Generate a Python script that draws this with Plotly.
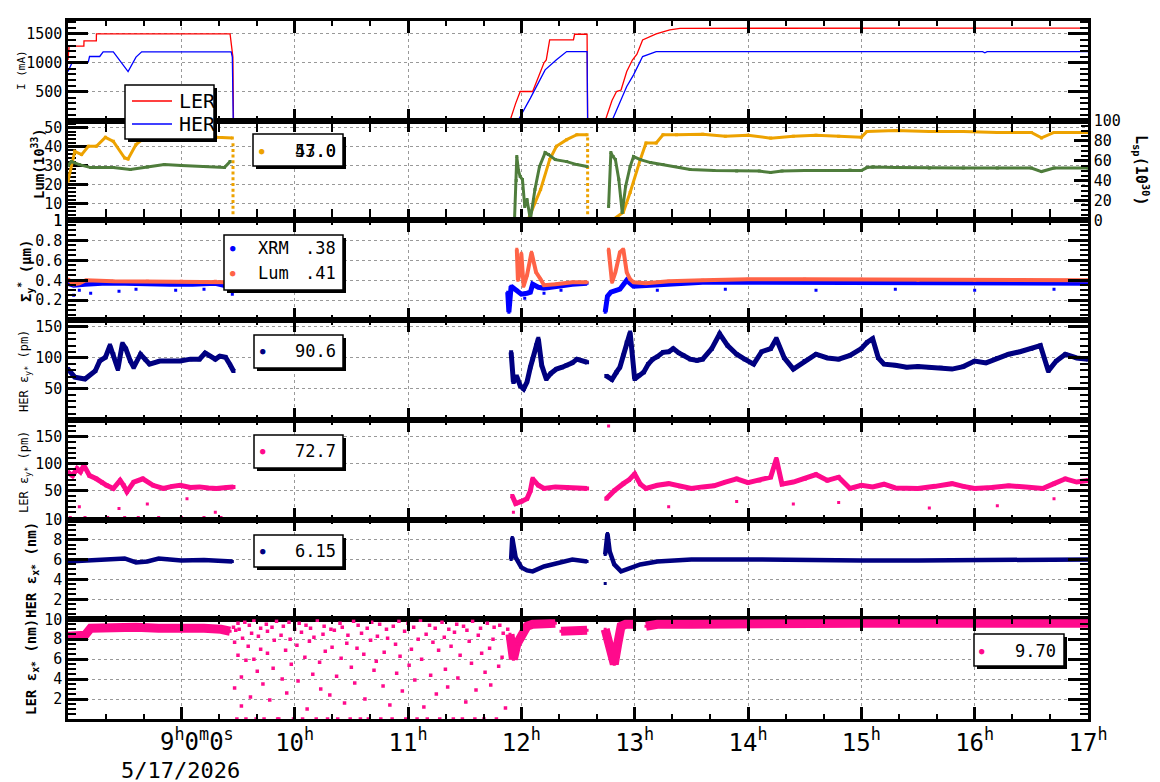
import plotly.graph_objects as go

# ================= DATA (time in hours of 5/17/2026) =================
# Panel 1 : beam currents (mA)
ler_t = [8.0, 8.01, 8.14, 8.141, 8.25, 8.251, 9.43, 9.445, 9.455, 9.46, 11.90, 11.95, 11.99, 12.10, 12.15, 12.20, 12.22, 12.25, 12.46, 12.47, 12.58, 12.585,
         12.74, 12.80, 12.84, 12.88, 12.93, 12.98, 13.02, 13.07, 13.19, 13.31, 13.40, 17.0]
ler_i = [1050, 1290, 1290, 1380, 1380, 1500, 1500, 1300, 1100, 0, 0, 300, 505, 505, 750, 1000, 1050, 1397, 1400, 1495, 1495, 0,
         0, 350, 505, 530, 850, 1050, 1150, 1397, 1500, 1570, 1598, 1600]
her_t = [8.0, 8.04, 8.18, 8.19, 8.28, 8.31, 8.40, 8.53, 8.60, 8.65, 9.44, 9.45, 9.458, 11.97, 12.08, 12.21, 12.31, 12.40, 12.58, 12.585,
         12.80, 12.93, 12.99, 13.07, 13.19, 16.07, 16.09, 16.11, 17.0]
her_i = [850, 1020, 1020, 1110, 1110, 1190, 1190, 850, 1100, 1190, 1190, 1100, 0, 0, 391, 879, 1052, 1195, 1195, 0,
         0, 591, 793, 1109, 1195, 1195, 1175, 1195, 1195]

# Panel 2 : luminosity (1e33, left) and specific luminosity (1e30, right)
lum_t = [8.0, 8.06, 8.12, 8.18, 8.25, 8.33, 8.40, 8.50, 8.53, 8.60, 8.69, 8.81, 8.99, 9.16, 9.31, 9.45, None,
         9.46, 12.06, 12.17, 12.25, 12.31, 12.40, 12.49, 12.58, None,
         12.59, 12.81, 12.90, 12.96, 13.05, 13.10, 13.19, 13.25, 13.37, 13.6, 13.8, 14.0, 14.2, 14.4, 14.6, 14.8, 15.0,
         15.05, 15.3, 15.6, 15.9, 16.2, 16.5, 16.59, 16.7, 17.0]
lum_v = [21.7, 37.5, 35.8, 40.2, 40.2, 44.9, 42.8, 34.0, 33.5, 41.1, 45.4, 47.2, 46.3, 45.8, 44.9, 44.6, None,
         1.5, 1.5, 17.4, 33.2, 40.2, 43.7, 46.3, 46.3, None,
         1.5, 1.5, 5.3, 15.8, 33.2, 41.9, 41.9, 46.3, 46.3, 46.5, 45.5, 46.0, 44.5, 45.5, 46.0, 45.5, 45.0,
         48.0, 48.5, 48.0, 48.0, 47.5, 47.5, 44.6, 47.5, 47.5]
lum_drop_t = [9.456, 9.456, 9.456, 9.456, 9.456, 9.456, 9.456, 9.456, 9.456, 9.456, 9.456, 9.456, 9.456,
              12.585, 12.585, 12.585, 12.585, 12.585, 12.585, 12.585, 12.585, 12.585, 12.585, 12.585, 12.585, 12.585, 12.585]
lum_drop_v = [41, 38, 35, 32, 29, 26, 23, 20, 17, 14, 11, 8, 5,
              44, 41, 38, 35, 32, 29, 26, 23, 20, 17, 14, 11, 8, 5]
lsp_t = [8.0, 8.03, 8.1, 8.2, 8.4, 8.55, 8.7, 8.85, 9.0, 9.2, 9.38, 9.43, None,
         11.94, 11.955, 11.96, 11.975, 11.99, 12.01, 12.03, 12.05, 12.08, 12.12, 12.16, 12.21, 12.24, 12.30, 12.40, 12.49, 12.58, None,
         12.77, 12.79, 12.81, 12.83, 12.86, 12.89, 12.92, 12.96, 12.99, 13.05, 13.14, 13.25, 13.4, 13.49, 13.7, 13.9, 14.1, 14.2,
         14.3, 14.5, 14.7, 14.9, 15.0, 15.05, 15.1, 15.3, 15.6, 15.9, 16.2, 16.5, 16.59, 16.7, 17.0]
lsp_v = [55, 59, 56, 53, 53, 51, 53.5, 56, 55, 54, 53, 59, None,
         1, 40, 64, 50, 44, 41, 14, 21, 1, 31, 54, 68, 66, 61, 59, 56, 54, None,
         14, 68, 64, 61, 41, 8, 34, 54, 64, 61, 58, 56, 53, 51, 50, 49.5, 49.5, 48,
         49.5, 50, 50, 50.5, 50, 53, 53.5, 53, 52.5, 52.5, 52.5, 52.5, 49, 52.5, 52.5]

# Panel 3 : vertical beam size at IP (um)
xrm_t = [8.0, 8.05, 8.15, 8.3, 8.5, 8.7, 8.9, 9.1, 9.3, 9.45, None,
         11.88, 11.89, 11.91, 11.96, 12.0, 12.05, 12.08, 12.1, 12.15, 12.2, 12.31, 12.45, 12.58, None,
         12.74, 12.76, 12.79, 12.87, 12.93, 12.99, 13.14, 13.37, 13.6, 14.0, 14.5, 15.0, 15.5, 16.0, 16.5, 17.0]
xrm_v = [0.37, 0.35, 0.36, 0.37, 0.37, 0.36, 0.36, 0.36, 0.37, 0.33, None,
         0.28, 0.08, 0.34, 0.30, 0.26, 0.27, 0.28, 0.36, 0.33, 0.32, 0.34, 0.36, 0.37, None,
         0.08, 0.24, 0.28, 0.31, 0.40, 0.34, 0.35, 0.37, 0.38, 0.38, 0.38, 0.38, 0.37, 0.37, 0.37, 0.37]
xrm_out_t = [8.05, 8.1, 8.2, 8.45, 8.6, 8.95, 9.2, 9.45, 12.03, 12.2, 12.35, 13.2, 13.8, 14.6, 15.3, 16.0, 16.7]
xrm_out_v = [0.25, 0.30, 0.27, 0.29, 0.31, 0.30, 0.31, 0.26, 0.22, 0.27, 0.30, 0.30, 0.31, 0.30, 0.31, 0.30, 0.31]
sgl_t = [8.0, 8.05, 8.1, 8.16, 8.4, 8.7, 9.0, 9.3, 9.45, None,
         11.96, 11.97, 11.99, 12.0, 12.02, 12.05, 12.09, 12.13, 12.17, 12.2, 12.3, 12.45, 12.58, None,
         12.77, 12.8, 12.83, 12.87, 12.9, 12.93, 12.96, 12.99, 13.1, 13.3, 13.6, 14.0, 14.5, 15.0, 15.5, 16.0, 16.5, 17.0]
sgl_v = [0.41, 0.36, 0.37, 0.40, 0.39, 0.39, 0.39, 0.39, 0.38, None,
         0.71, 0.40, 0.48, 0.67, 0.34, 0.45, 0.68, 0.48, 0.41, 0.35, 0.36, 0.38, 0.38, None,
         0.71, 0.38, 0.48, 0.68, 0.71, 0.48, 0.41, 0.38, 0.37, 0.39, 0.40, 0.41, 0.41, 0.41, 0.40, 0.40, 0.40, 0.40]

# Panel 4 : HER vertical emittance (pm)
hey_t = [8.0, 8.06, 8.15, 8.24, 8.28, 8.33, 8.37, 8.40, 8.44, 8.48, 8.51, 8.55, 8.58, 8.64, 8.68, 8.72, 8.81, 8.90,
         8.99, 9.08, 9.16, 9.21, 9.25, 9.30, 9.34, 9.39, 9.43, 9.46, None,
         11.91, 11.93, 11.96, 11.99, 12.02, 12.05, 12.08, 12.10, 12.13, 12.15, 12.18, 12.22, 12.26, 12.31, 12.36, 12.40,
         12.45, 12.49, 12.54, 12.58, None,
         12.75, 12.80, 12.84, 12.87, 12.90, 12.93, 12.96, 13.0, 13.04, 13.08, 13.12, 13.16, 13.2, 13.25, 13.3, 13.34, 13.39,
         13.43, 13.49, 13.55, 13.6, 13.68, 13.75, 13.82, 13.9, 13.97, 14.05, 14.12, 14.2, 14.25, 14.32, 14.4, 14.5,
         14.6, 14.7, 14.8, 14.9, 15.0, 15.05, 15.1, 15.15, 15.2, 15.3, 15.4, 15.5, 15.6, 15.7, 15.8, 15.9, 16.0, 16.1,
         16.2, 16.3, 16.4, 16.5, 16.58, 16.65, 16.72, 16.8, 16.9, 17.0]
hey_v = [82, 69, 66, 79, 95, 101, 120, 106, 82, 123, 115, 95, 85, 106, 98, 90, 95, 95,
         95, 98, 98, 108, 103, 98, 103, 101, 89, 79, None,
         109, 61, 70, 55, 50, 61, 85, 98, 120, 131, 88, 66, 75, 82, 85, 88,
         92, 98, 95, 93, None,
         71, 65, 77, 85, 104, 125, 141, 66, 72, 77, 90, 98, 102, 109, 110, 115, 108,
         104, 98, 96, 98, 115, 139, 120, 106, 98, 90, 110, 115, 131, 100, 82, 95,
         106, 100, 98, 104, 115, 125, 131, 100, 90, 88, 85, 86, 85, 84, 82, 86, 95, 92,
         100, 106, 110, 115, 120, 79, 95, 106, 100, 98]

# Panel 5 : LER vertical emittance (pm)
ley_t = [8.0, 8.04, 8.08, 8.11, 8.14, 8.19, 8.25, 8.30, 8.34, 8.40, 8.46, 8.49, 8.52, 8.58, 8.66, 8.75, 8.84, 8.92, 8.99, 9.08,
         9.16, 9.24, 9.31, 9.40, 9.46, None,
         11.92, 11.95, 12.0, 12.05, 12.08, 12.1, 12.15, 12.2, 12.3, 12.4, 12.5, 12.58, None,
         12.75, 12.82, 12.9, 12.95, 13.0, 13.05, 13.1, 13.2, 13.3, 13.4, 13.5, 13.6, 13.7, 13.8, 13.9, 14.0, 14.1, 14.2, 14.25,
         14.3, 14.4, 14.5, 14.6, 14.7, 14.8, 14.9, 15.0, 15.1, 15.2, 15.3, 15.5, 15.65, 15.8, 15.9, 16.0, 16.15, 16.3,
         16.45, 16.6, 16.7, 16.8, 16.9, 17.0]
ley_v = [84, 78, 91, 85, 97, 78, 72, 65, 60, 54, 69, 60, 48, 66, 72, 60, 54, 58, 60, 56,
         57, 55, 54, 56, 57, None,
         40, 26, 30, 35, 50, 72, 60, 54, 57, 57, 55, 54, None,
         35, 50, 63, 70, 81, 62, 54, 60, 63, 58, 54, 57, 59, 66, 72, 65, 69, 75, 109,
         62, 66, 72, 80, 69, 75, 54, 60, 57, 62, 55, 54, 58, 63, 58, 54, 56, 59,
         57, 54, 63, 72, 66, 69]
ley_out_t = [8.02, 8.15, 8.35, 8.5, 8.62, 8.8, 9.0, 9.2, 9.35, 8.1, 8.45, 8.7, 9.05, 9.3, 11.93, 12.0, 12.77, 13.3, 14.4,
             15.6, 16.2, 13.9, 14.8, 16.7]
ley_out_v = [0, 0, 0, 0, 0, 0, 0, 0, 0, 20, 17, 25, 35, 10, 10, 5, 170, 20, 25, 18, 22, 30, 28, 35]

# Panel 6 : HER horizontal emittance (nm)
hex_t = [8.0, 8.15, 8.3, 8.5, 8.6, 8.7, 8.8, 9.0, 9.2, 9.45, None,
         11.91, 11.92, 11.95, 12.0, 12.05, 12.1, 12.2, 12.3, 12.45, 12.58, None,
         12.74, 12.76, 12.78, 12.82, 12.88, 12.95, 13.05, 13.2, 13.5, 14.0, 14.5, 15.0, 15.5, 16.0, 16.5, 17.0]
hex_v = [5.8, 5.9, 6.0, 6.1, 5.7, 5.8, 6.1, 5.9, 5.95, 5.8, None,
         6.0, 8.2, 6.2, 5.2, 4.9, 4.8, 5.3, 5.6, 6.0, 5.8, None,
         6.5, 8.6, 6.8, 5.5, 4.8, 5.1, 5.5, 5.8, 6.0, 6.0, 5.9, 5.9, 5.9, 5.9, 5.95, 6.0]
hex_out_t = [12.74]
hex_out_v = [3.6]

# Panel 7 : LER horizontal emittance (nm)
lex_t = [8.0, 8.15, 8.2, 8.4, 8.6, 8.8, 9.0, 9.2, 9.35, 9.43, None,
         11.9, 11.93, 11.96, 12.0, 12.05, 12.1, 12.2, 12.3, None,
         12.35, 12.45, 12.58, None,
         12.74, 12.78, 12.82, 12.85, 12.88, 12.92, 12.96, 13.0, None,
         13.1, 13.2, 13.5, 14.0, 14.5, 15.0, 15.5, 16.0, 16.5, 17.0]
lex_v = [8.3, 8.4, 9.1, 9.2, 9.2, 9.1, 9.2, 9.1, 9.0, 8.8, None,
         8.5, 6.0, 7.5, 8.5, 9.3, 9.5, 9.6, 9.6, None,
         8.8, 8.9, 8.9, None,
         9.0, 7.0, 5.5, 7.5, 9.3, 9.5, 9.6, 9.5, None,
         9.3, 9.5, 9.5, 9.6, 9.6, 9.6, 9.6, 9.6, 9.6, 9.6]
lex_cloud_t = [
    9.46, 9.47, 9.47, 9.48, 9.49, 9.50, 9.50, 9.51, 9.53, 9.53, 9.54, 9.56, 9.57, 9.57, 9.59, 9.60, 9.61, 9.62, 9.64, 9.64,
    9.66, 9.67, 9.68, 9.70, 9.70, 9.72, 9.73, 9.75, 9.76, 9.76, 9.78, 9.80, 9.81, 9.82, 9.84, 9.85, 9.86, 9.88, 9.89, 9.90,
    9.92, 9.93, 9.95, 9.96, 9.97, 9.99, 10.00, 10.02, 10.03, 10.04, 10.06, 10.07, 10.09, 10.10, 10.11, 10.13, 10.14, 10.16, 10.17, 10.19,
    10.20, 10.22, 10.23, 10.25, 10.26, 10.27, 10.29, 10.31, 10.32, 10.33, 10.35, 10.37, 10.38, 10.40, 10.41, 10.42, 10.44, 10.46, 10.47, 10.49,
    10.50, 10.52, 10.53, 10.55, 10.56, 10.58, 10.59, 10.61, 10.62, 10.64, 10.65, 10.67, 10.68, 10.70, 10.72, 10.73, 10.75, 10.76, 10.78, 10.79,
    10.81, 10.82, 10.84, 10.86, 10.87, 10.89, 10.90, 10.92, 10.93, 10.95, 10.97, 10.98, 11.00, 11.01, 11.03, 11.05, 11.06, 11.08, 11.09, 11.11,
    11.12, 11.14, 11.16, 11.17, 11.19, 11.20, 11.22, 11.24, 11.25, 11.27, 11.28, 11.30, 11.32, 11.33, 11.35, 11.36, 11.38, 11.40, 11.41, 11.43,
    11.44, 11.46, 11.48, 11.49, 11.51, 11.52, 11.54, 11.56, 11.57, 11.59, 11.60, 11.62, 11.64, 11.65, 11.67, 11.68, 11.70, 11.72, 11.73, 11.75,
    11.76, 11.78, 11.80, 11.81, 11.83, 11.84, 11.86, 11.88]
lex_cloud_v = [
    9.2, 3.1, 7.7, 8.9, 0.0, 6.4, 9.6, 9.0, 4.2, 1.3,
    8.1, 9.7, 5.9, 0.0, 7.3, 9.4, 2.2, 8.6, 6.0, 9.9,
    0.0, 4.8, 8.3, 9.1, 7.0, 3.5, 0.0, 9.5, 6.6, 8.8,
    1.9, 9.2, 5.1, 7.9, 9.8, 0.0, 0.0, 8.4, 4.0, 9.3,
    6.9, 2.6, 9.7, 8.0, 5.5, 0.0, 9.0, 7.4, 3.8, 9.6,
    8.7, 0.0, 6.2, 9.4, 1.0, 7.8, 9.1, 4.5, 8.2, 0.0,
    9.9, 5.7, 3.0, 8.5, 9.3, 6.8, 0.0, 2.4, 9.0, 7.2,
    8.9, 4.3, 0.0, 9.6, 6.1, 9.2, 1.6, 7.6, 8.4, 0.0,
    5.2, 9.8, 3.6, 7.1, 9.4, 0.0, 8.6, 6.5, 2.0, 9.1,
    0.0, 7.9, 9.7, 4.9, 5.8, 8.3, 9.5, 0.0, 3.3, 6.7,
    9.0, 8.1, 1.4, 0.0, 9.3, 7.5, 4.6, 9.8, 6.3, 2.8,
    8.8, 0.0, 9.6, 5.4, 7.0, 9.2, 3.9, 0.0, 8.0, 9.9,
    6.0, 1.2, 8.5, 0.0, 9.4, 4.4, 7.7, 9.1, 2.5, 6.9,
    0.0, 9.7, 8.2, 5.0, 3.2, 9.0, 7.3, 0.0, 8.7, 9.5,
    4.1, 6.4, 0.0, 9.3, 1.7, 8.9, 7.8, 5.6, 9.8, 0.0,
    2.9, 8.4, 9.1, 6.6, 0.0, 4.7, 9.6, 7.1, 3.4, 8.0,
    9.2, 0.0, 5.3, 9.4, 6.2, 8.6, 1.1, 9.0]

hours = [8, 9, 10, 11, 12, 13, 14, 15, 16, 17]
hour_text = ["", "", "10<sup>h</sup>", "11<sup>h</sup>", "12<sup>h</sup>",
             "13<sup>h</sup>", "14<sup>h</sup>", "15<sup>h</sup>", "16<sup>h</sup>", "17<sup>h</sup>"]
first_tick_text = "9<sup>h</sup>0<sup>m</sup>0<sup>s</sup>"
date_text = "5/17/2026"

# legend values
leg_lum = ["57.0", "43.0"]
leg_xrm, leg_slum = ".38", ".41"
leg_hey, leg_ley, leg_hex, leg_lex = "90.6", "72.7", "6.15", "9.70"

# ================= LAYOUT HELPERS =================
W, H = 1160, 782
ML, MR, MT, MB = 68, 72, 21, 63
PW, PH = W - ML - MR, H - MT - MB
FONT = "DejaVu Sans Mono"

def fx(p):
    return (p - ML) / PW

def fy(p):
    return (H - MB - p) / PH

C_RED, C_BLUE = "#ff0000", "#0000ff"
C_ORANGE, C_GREEN = "#eda200", "#4f7d3c"
C_TOMATO, C_NAVY, C_PINK = "#ff6347", "#000080", "#ff0a8c"

fig = go.Figure()

def add(x, y, n, color, width=0.0, msize=3, mode="lines+markers", yax=None):
    key = "" if n == 1 else str(n)
    fig.add_trace(go.Scatter(
        x=x, y=y, xaxis="x" + key, yaxis=yax or ("y" + key), mode=mode,
        line=dict(color=color, width=width), marker=dict(color=color, size=msize, symbol="square"),
        connectgaps=False, showlegend=False, hoverinfo="skip"))

add(ler_t, ler_i, 1, C_RED, 1.3, mode="lines")
add(her_t, her_i, 1, C_BLUE, 1.3, mode="lines")
add(lsp_t, lsp_v, 2, C_GREEN, 3, 3, yax="y8")
add(lum_t, lum_v, 2, C_ORANGE, 3, 3)
add(lum_drop_t, lum_drop_v, 2, C_ORANGE, 0, 3, mode="markers")
add(xrm_t, xrm_v, 3, C_BLUE, 5, 3)
add(xrm_out_t, xrm_out_v, 3, C_BLUE, 0, 3, mode="markers")
add(sgl_t, sgl_v, 3, C_TOMATO, 4, 3)
add(hey_t, hey_v, 4, C_NAVY, 5, 4)
add(ley_t, ley_v, 5, C_PINK, 5, 4)
add(ley_out_t, ley_out_v, 5, C_PINK, 0, 3, mode="markers")
add(hex_t, hex_v, 6, C_NAVY, 4.5, 3)
add(hex_out_t, hex_out_v, 6, C_NAVY, 0, 3, mode="markers")
add(lex_t, lex_v, 7, C_PINK, 9, 3)
add(lex_cloud_t, lex_cloud_v, 7, C_PINK, 0, 3.5, mode="markers")

# y-axis specs: range, tickvals, minor dtick
ycfg = [
    ([0, 1724], [500, 1000, 1500], 100),
    ([1, 53.7], [1, 10, 20, 30, 40, 50], 2),
    ([0, 1], [0.2, 0.4, 0.6, 0.8, 1], 0.05),
    ([0, 161], [50, 100, 150], 10),
    ([-3.7, 181.5], [50, 100, 150], 10),
    ([0, 10], [2, 4, 6, 8, 10], 0.5),
    ([0, 10], [2, 4, 6, 8, 10], 0.5),
]
tickfont = dict(family=FONT, size=15, color="black")
for i in range(7):
    n = i + 1
    key = "" if n == 1 else str(n)
    top, bot = 1 - i / 7, 1 - (i + 1) / 7
    rng, tv, mdt = ycfg[i]
    fig.layout["xaxis" + key] = dict(
        domain=[0, 1], anchor="y" + key, range=[8, 17], tickmode="array", tickvals=hours,
        ticktext=hour_text, showticklabels=(n == 7), ticks="inside", ticklen=12, tickwidth=2.5,
        tickcolor="black", showline=True, linecolor="black", linewidth=2.5, mirror="allticks",
        showgrid=True, gridcolor="#999999", griddash="dot", gridwidth=1, zeroline=False,
        tickfont=dict(family=FONT, size=24, color="black"),
        minor=dict(tickmode="linear", tick0=8, dtick=1 / 3, ticks="inside", ticklen=5, tickwidth=1.5,
                   tickcolor="black", showgrid=False))
    fig.layout["yaxis" + key] = dict(
        domain=[bot, top], anchor="x" + key, range=rng, tickmode="array", tickvals=tv,
        ticks="inside", ticklen=20, tickwidth=3, tickcolor="black", showline=True, linecolor="black",
        linewidth=2.5, mirror=(False if n == 2 else "allticks"), showgrid=True, gridcolor="#999999",
        griddash="dot", gridwidth=1, zeroline=False, tickfont=tickfont,
        layer=("below traces" if n == 2 else "above traces"),
        minor=dict(tickmode="linear", tick0=0, dtick=mdt, ticks="inside", ticklen=8, tickwidth=1.5,
                   tickcolor="black", showgrid=False))

fig.layout["yaxis8"] = dict(
    overlaying="y2", anchor="x2", side="right", range=[0, 100], tickmode="array",
    tickvals=[0, 20, 40, 60, 80, 100], ticks="inside", ticklen=14, tickwidth=3, tickcolor="black",
    showline=True, linecolor="black", linewidth=2.5, showgrid=False, zeroline=False, tickfont=tickfont,
    minor=dict(tickmode="linear", tick0=0, dtick=5, ticks="inside", ticklen=7, tickwidth=1.5,
               tickcolor="black", showgrid=False))

# ---------- axis titles ----------
ann = []
def title(text, x, y, size, bold=False, angle=-90):
    t = "<b>" + text + "</b>" if bold else text
    ann.append(dict(text=t, x=fx(x), y=fy(y), xref="paper", yref="paper", showarrow=False,
                    textangle=angle, font=dict(family=FONT, size=size, color="black"),
                    xanchor="center", yanchor="middle"))

title("I (mA)", 22, 70, 11)
title("Lum(10<sup>33</sup>)", 38, 164, 14, True)
title("Σ<sub>y</sub><sup>*</sup> (μm)", 26, 271, 14, True)
title("HER ε<sub>y*</sub> (pm)", 25, 371, 12)
title("LER ε<sub>y*</sub> (pm)", 25, 472, 12)
title("HER ε<sub>x*</sub> (nm)", 32, 570, 14, True)
title("LER ε<sub>x*</sub> (nm)", 32, 667, 14, True)
title("L<sub>sp</sub>(10<sup>30</sup>)", 1142, 170, 15, True, angle=90)

# first time label and date
title(first_tick_text, 197, 740, 24, angle=0)
title(date_text, 180, 770, 22, angle=0)

# ---------- legend boxes ----------
shapes = []
def box(x0, y0, x1, y1):
    shapes.append(dict(type="rect", xref="paper", yref="paper", x0=fx(x0 + 3), x1=fx(x1 + 3),
                       y0=fy(y1 + 3), y1=fy(y0 + 3), fillcolor="black", line=dict(width=0), layer="above"))
    shapes.append(dict(type="rect", xref="paper", yref="paper", x0=fx(x0), x1=fx(x1),
                       y0=fy(y1), y1=fy(y0), fillcolor="white", line=dict(color="black", width=1.5),
                       layer="above"))

def seg(x0, x1, y, color):
    shapes.append(dict(type="line", xref="paper", yref="paper", x0=fx(x0), x1=fx(x1), y0=fy(y), y1=fy(y),
                       line=dict(color=color, width=1.3), layer="above"))

def txt(text, x, y, size=17, anchor="right", color="black"):
    ann.append(dict(text=text, x=fx(x), y=fy(y), xref="paper", yref="paper", showarrow=False,
                    font=dict(family=FONT, size=size, color=color), xanchor=anchor, yanchor="middle"))

def dot(x, y, color):
    txt("●", x, y, 9, "center", color)

box(125, 85, 214, 139)
seg(132, 172, 101, C_RED)
seg(132, 172, 124, C_BLUE)
txt("LER", 177, 101, 20, "left")
txt("HER", 177, 124, 20, "left")

box(253, 134, 343, 166)
dot(262, 151, C_ORANGE)
txt(leg_lum[0], 338, 151)
txt(leg_lum[1], 338, 151)

box(224, 235, 343, 290)
dot(233, 248, C_BLUE)
dot(233, 273, C_TOMATO)
txt("XRM", 256, 248, 17, "left")
txt("Lum", 256, 273, 17, "left")
txt(leg_xrm, 338, 248)
txt(leg_slum, 338, 273)

box(254, 335, 343, 368)
dot(263, 351, C_NAVY)
txt(leg_hey, 338, 351)

box(254, 435, 343, 468)
dot(263, 451, C_PINK)
txt(leg_ley, 338, 451)

box(254, 535, 343, 567)
dot(263, 551, C_NAVY)
txt(leg_hex, 338, 551)

box(974, 634, 1064, 666)
dot(982, 651, C_PINK)
txt(leg_lex, 1058, 651)

fig.update_layout(
    width=W, height=H, margin=dict(l=ML, r=MR, t=MT, b=MB, autoexpand=False),
    paper_bgcolor="white", plot_bgcolor="white", showlegend=False,
    annotations=ann, shapes=shapes, font=dict(family=FONT, color="black"))

fig.write_html("out.html")
